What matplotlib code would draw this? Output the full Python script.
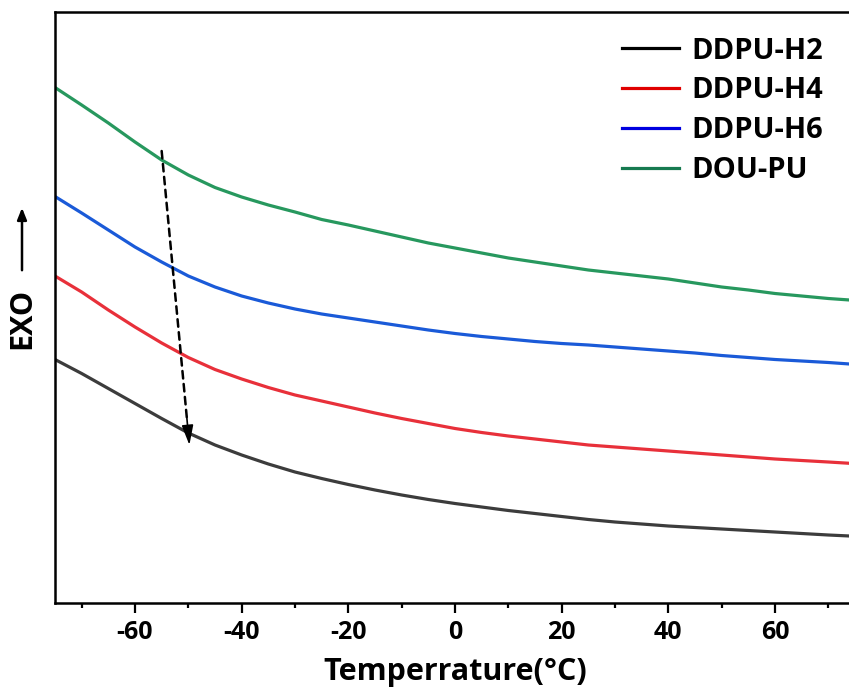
import matplotlib
matplotlib.use("Agg")
import matplotlib.pyplot as plt
from matplotlib.lines import Line2D
from matplotlib.patches import FancyArrowPatch
from matplotlib.ticker import MultipleLocator

plt.rcParams['font.family'] = ['Open Sans', 'DejaVu Sans']
plt.rcParams['axes.unicode_minus'] = False

temperature = [-75, -70, -65, -60, -55, -50, -45, -40, -35, -30, -25, -20, -15, -10, -5,
               0, 5, 10, 15, 20, 25, 30, 35, 40, 45, 50, 55, 60, 65, 70, 74]
ddpu_h2 = [2.435, 2.295, 2.145, 1.995, 1.845, 1.70, 1.58, 1.48, 1.39, 1.31, 1.245, 1.185,
           1.13, 1.08, 1.035, 0.995, 0.96, 0.925, 0.895, 0.865, 0.835, 0.81, 0.79, 0.77,
           0.755, 0.74, 0.725, 0.71, 0.695, 0.68, 0.67]
ddpu_h4 = [3.27, 3.11, 2.93, 2.76, 2.60, 2.455, 2.335, 2.24, 2.155, 2.08, 2.02, 1.96, 1.90,
           1.845, 1.795, 1.745, 1.705, 1.67, 1.64, 1.61, 1.58, 1.56, 1.54, 1.52, 1.50, 1.48,
           1.46, 1.44, 1.425, 1.41, 1.397]
ddpu_h6 = [4.065, 3.90, 3.73, 3.56, 3.41, 3.27, 3.16, 3.07, 3.00, 2.94, 2.89, 2.85, 2.81,
           2.77, 2.73, 2.695, 2.665, 2.64, 2.615, 2.595, 2.58, 2.56, 2.54, 2.52, 2.50, 2.475,
           2.455, 2.435, 2.42, 2.405, 2.39]
dou_pu = [5.155, 4.98, 4.80, 4.61, 4.43, 4.28, 4.155, 4.06, 3.98, 3.91, 3.835, 3.78, 3.72,
          3.66, 3.60, 3.55, 3.50, 3.45, 3.41, 3.37, 3.33, 3.30, 3.27, 3.24, 3.20, 3.16, 3.13,
          3.095, 3.07, 3.045, 3.03]

series_names = ["DDPU-H2", "DDPU-H4", "DDPU-H6", "DOU-PU"]
series_values = [ddpu_h2, ddpu_h4, ddpu_h6, dou_pu]
line_colors = ["#3c3c3c", "#e8303a", "#1a5ad8", "#27985e"]
legend_colors = ["#000000", "#e00000", "#0000e0", "#167a50"]

xticks = [-60, -40, -20, 0, 20, 40, 60]

# trend arrow (start -> end) in data units
arrow_start = (-55.0, 4.52)
arrow_end = (-49.8, 1.58)
head_frac = 0.09  # fraction of the arrow occupied by the solid head

fig = plt.figure(figsize=(8.49, 6.95), dpi=100)
ax = fig.add_axes([55/849, 92/695, 800/849, 591/695])

for vals, c in zip(series_values, line_colors):
    ax.plot(temperature, vals, color=c, lw=2.3, solid_joinstyle='round')

ax.set_xlim(-75, 75)
ax.set_ylim(0, 5.91)
ax.set_xticks(xticks)
ax.xaxis.set_minor_locator(MultipleLocator(10))
ax.set_yticks([])
ax.tick_params(axis='x', which='major', direction='out', length=7, width=1.6,
               labelsize=18, pad=5)
ax.tick_params(axis='x', which='minor', direction='out', length=3.5, width=1.6)
for lab in ax.get_xticklabels():
    lab.set_fontweight('bold')
for s in ax.spines.values():
    s.set_linewidth(1.8)

ax.set_xlabel("Temperrature(°C)", fontsize=22, fontweight='bold', labelpad=9)

# dashed shaft
head_base = (arrow_end[0] - head_frac * (arrow_end[0] - arrow_start[0]),
             arrow_end[1] - head_frac * (arrow_end[1] - arrow_start[1]))
ax.annotate("", xy=head_base, xytext=arrow_start,
            arrowprops=dict(arrowstyle='-', linestyle=(0, (3, 2.2)), color='black',
                            lw=1.8, shrinkA=0, shrinkB=0))
# solid head
ax.annotate("", xy=arrow_end, xytext=head_base,
            arrowprops=dict(arrowstyle='-|>,head_length=1.2,head_width=0.35',
                            color='black', lw=1.2, shrinkA=0, shrinkB=0))

handles = [Line2D([0], [0], color=c, lw=2.3) for c in legend_colors]
leg = ax.legend(handles, series_names, loc='upper right',
                bbox_to_anchor=(838/849, 1 - 22/695), bbox_transform=fig.transFigure,
                frameon=False, prop={'weight': 'bold', 'size': 21}, borderpad=0,
                handlelength=1.95, handletextpad=0.45, labelspacing=0.37)

fig.text(22/849, 1 - 318/695, "EXO", rotation=90, ha='center', va='center',
         fontsize=22, fontweight='bold')
fig.add_artist(FancyArrowPatch(
    (22/849, 1 - 273/695), (22/849, 1 - 205/695), transform=fig.transFigure,
    arrowstyle='-|>,head_length=7,head_width=2.8', color='black', lw=1.8,
    mutation_scale=1))

fig.savefig("out.png", dpi=100)
